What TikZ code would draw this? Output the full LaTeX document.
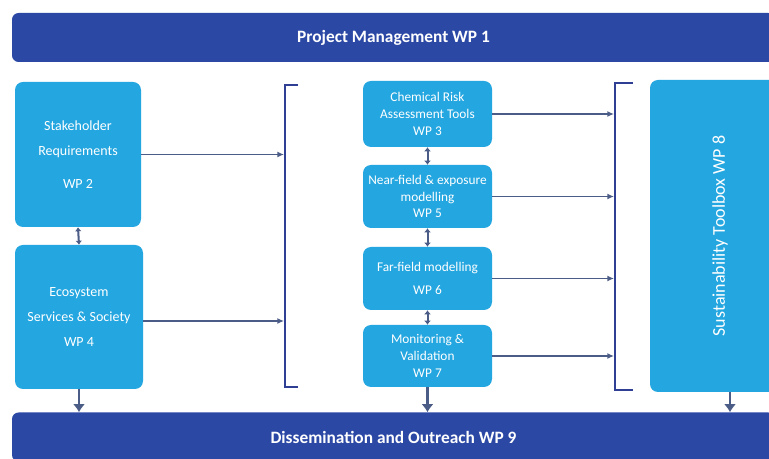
\documentclass[tikz,border=0pt]{standalone}
\usepackage{fontspec}
\setmainfont{Carlito}
\usetikzlibrary{arrows.meta}
\begin{document}
\begin{tikzpicture}[x=0.75pt, y=-0.75pt,
  bar/.style={fill=barblue, rounded corners=5pt, text=white, inner sep=0pt,
    minimum width=572.25pt, minimum height=36.75pt, font=\fontsize{13}{15}\selectfont\bfseries},
  wpbox/.style={fill=boxblue, rounded corners=6pt, text=white, inner sep=0pt, align=center},
  flow/.style={draw=arrowgray, line width=1.1pt, -{Latex[length=5pt,width=4.5pt]}},
  link/.style={draw=arrowgray, line width=1.5pt, {Latex[length=3pt,width=5pt]}-{Latex[length=3pt,width=5pt]}},
  down/.style={draw=arrowgray, line width=2.2pt, -{Latex[length=6pt,width=9pt]}},
  brk/.style={draw=brkblue, line width=1.6pt}]
\definecolor{barblue}{HTML}{2C48A5}
\definecolor{boxblue}{HTML}{24A6E0}
\definecolor{brkblue}{HTML}{2F3F93}
\definecolor{arrowgray}{HTML}{4B5C87}
\fill[white] (0,0) rectangle (769,459);
\useasboundingbox (0,0) rectangle (769,459);

\node[bar] (pm) at (393.5,37.5) {Project Management WP 1};
\node[bar] (dd) at (393.5,437) {Dissemination and Outreach WP 9};

\node[wpbox, minimum width=94.5pt, minimum height=108.75pt, font=\fontsize{10.5}{19}\selectfont] (sh) at (78,154.5) {Stakeholder\\Requirements\\[6pt]WP 2};
\node[wpbox, minimum width=96pt, minimum height=108pt, font=\fontsize{10.5}{19}\selectfont] (es) at (79,317) {Ecosystem\\Services \& Society\\WP 4};

\node[wpbox, minimum width=96.75pt, minimum height=49.5pt, font=\fontsize{10}{12.5}\selectfont] (cr) at (427.5,114) {Chemical Risk\\Assessment Tools\\WP 3};
\node[wpbox, minimum width=96.75pt, minimum height=47.25pt, font=\fontsize{10}{12.5}\selectfont] (nf) at (427.5,196.5) {Near-field \& exposure\\modelling\\WP 5};
\node[wpbox, minimum width=96.75pt, minimum height=47.25pt, font=\fontsize{10}{17}\selectfont] (ff) at (427.5,278.5) {Far-field modelling\\WP 6};
\node[wpbox, minimum width=96.75pt, minimum height=46.5pt, font=\fontsize{10}{12.5}\selectfont] (mv) at (427.5,356) {Monitoring \&\\Validation\\WP 7};

\node[wpbox, rotate=90, minimum width=234pt, minimum height=105pt, font=\fontsize{13.5}{15}\selectfont] (sus) at (720,236) {Sustainability Toolbox WP 8};

\draw[brk] (298,85) -- (285,85) -- (285,387) -- (298,387);
\draw[brk] (633,83) -- (615,83) -- (615,390) -- (633,390);
\coordinate (lbr) at (284,0);
\coordinate (rbr) at (614,0);

\draw[flow] (sh.east) -- (sh.east -| lbr);
\draw[flow] ([yshift=-3pt]es.east) -- ([yshift=-3pt]es.east -| lbr);
\draw[flow] (cr.east) -- (cr.east -| rbr);
\draw[flow] (nf.east) -- (nf.east -| rbr);
\draw[flow] (ff.east) -- (ff.east -| rbr);
\draw[flow] (mv.east) -- (mv.east -| rbr);

\draw[link] (sh.south) -- (es.north);
\draw[link] (cr.south) -- (nf.north);
\draw[link] (nf.south) -- (ff.north);
\draw[link] (ff.south) -- (mv.north);

\draw[down] (es.south) -- (es.south |- dd.north);
\draw[down] (mv.south) -- (mv.south |- dd.north);
\draw[down] ([xshift=7.5pt]sus.west) -- ([xshift=7.5pt]sus.west |- dd.north);
\end{tikzpicture}
\end{document}
